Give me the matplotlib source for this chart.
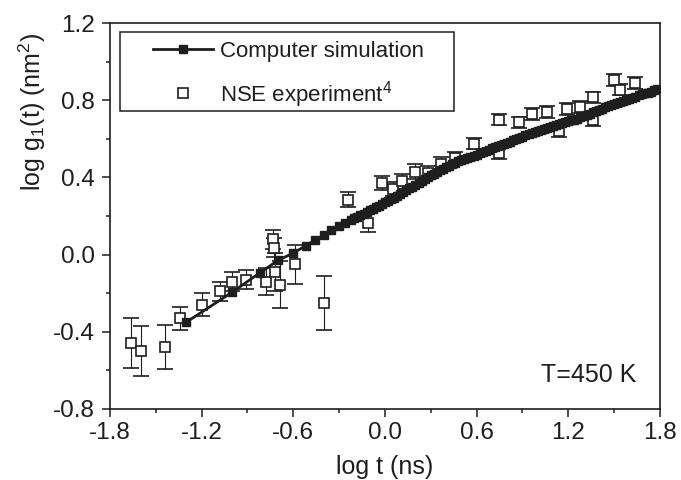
import numpy as np
import matplotlib
matplotlib.use("Agg")
import matplotlib.pyplot as plt
from matplotlib.lines import Line2D
from matplotlib.patches import Rectangle

plt.rcParams['font.family'] = ['Liberation Sans', 'DejaVu Sans']
plt.rcParams['mathtext.fontset'] = 'custom'
plt.rcParams['mathtext.rm'] = 'Liberation Sans'
plt.rcParams['mathtext.it'] = 'Liberation Sans:italic'

# computer simulation (log t, log g1)
sim_x = [-1.30, -1.00, -0.82, -0.70, -0.60, -0.52, -0.46, -0.40, -0.35, -0.30,
         -0.26, -0.22, -0.20, -0.18, -0.16, -0.14, -0.12, -0.10, -0.08, -0.06,
         -0.04, -0.02, 0.00, 0.02, 0.04, 0.06, 0.08, 0.10, 0.12, 0.14,
         0.16, 0.18, 0.20, 0.22, 0.24, 0.26, 0.28, 0.30, 0.32, 0.34,
         0.36, 0.38, 0.40, 0.42, 0.44, 0.46, 0.48, 0.50, 0.52, 0.54,
         0.56, 0.58, 0.60, 0.62, 0.64, 0.66, 0.68, 0.70, 0.72, 0.74,
         0.76, 0.78, 0.80, 0.82, 0.84, 0.86, 0.88, 0.90, 0.92, 0.94,
         0.96, 0.98, 1.00, 1.02, 1.04, 1.06, 1.08, 1.10, 1.12, 1.14,
         1.16, 1.18, 1.20, 1.22, 1.24, 1.26, 1.28, 1.30, 1.32, 1.34,
         1.36, 1.38, 1.40, 1.42, 1.44, 1.46, 1.48, 1.50, 1.52, 1.54,
         1.56, 1.58, 1.60, 1.62, 1.64, 1.66, 1.68, 1.70, 1.72, 1.74,
         1.76, 1.78]
sim_y = [-0.35, -0.195, -0.095, -0.03, 0.008, 0.045, 0.075, 0.10, 0.125, 0.15,
         0.165, 0.18, 0.188, 0.195, 0.203, 0.21, 0.22, 0.23, 0.238, 0.245,
         0.253, 0.26, 0.27, 0.28, 0.288, 0.295, 0.305, 0.315, 0.325, 0.335,
         0.343, 0.35, 0.36, 0.37, 0.38, 0.39, 0.40, 0.41, 0.42, 0.43,
         0.438, 0.445, 0.453, 0.46, 0.468, 0.475, 0.483, 0.49, 0.495, 0.50,
         0.505, 0.51, 0.518, 0.525, 0.53, 0.535, 0.543, 0.55, 0.558, 0.565,
         0.57, 0.575, 0.58, 0.585, 0.593, 0.60, 0.605, 0.61, 0.618, 0.625,
         0.63, 0.635, 0.64, 0.645, 0.65, 0.655, 0.66, 0.665, 0.67, 0.675,
         0.68, 0.685, 0.69, 0.695, 0.70, 0.705, 0.713, 0.72, 0.725, 0.73,
         0.738, 0.745, 0.75, 0.755, 0.763, 0.77, 0.775, 0.78, 0.785, 0.79,
         0.795, 0.80, 0.805, 0.81, 0.818, 0.825, 0.83, 0.835, 0.84, 0.845,
         0.852, 0.86]

# NSE experiment
nse_x = [-1.66, -1.60, -1.44, -1.34, -1.20, -1.08, -1.00, -0.91, -0.78, -0.735,
         -0.725, -0.72, -0.69, -0.59, -0.40, -0.24, -0.11, -0.02, 0.05, 0.11,
         0.20, 0.28, 0.37, 0.46, 0.58, 0.75, 0.75, 0.88, 0.96, 1.06,
         1.14, 1.19, 1.28, 1.36, 1.36, 1.50, 1.54, 1.64]
nse_y = [-0.46, -0.50, -0.48, -0.33, -0.26, -0.19, -0.14, -0.13, -0.14, 0.08,
         0.035, -0.09, -0.155, -0.05, -0.25, 0.285, 0.165, 0.37, 0.34, 0.38,
         0.43, 0.425, 0.47, 0.50, 0.575, 0.70, 0.525, 0.685, 0.73, 0.74,
         0.64, 0.755, 0.765, 0.815, 0.695, 0.905, 0.855, 0.89]
nse_err = [0.13, 0.13, 0.115, 0.06, 0.06, 0.05, 0.05, 0.05, 0.07, 0.05,
           0.05, 0.10, 0.12, 0.10, 0.14, 0.04, 0.05, 0.035, 0.035, 0.04,
           0.04, 0.035, 0.035, 0.03, 0.03, 0.03, 0.03, 0.03, 0.03, 0.03,
           0.03, 0.03, 0.03, 0.03, 0.03, 0.03, 0.03, 0.03]

ink = '#1e1e1e'

fig = plt.figure(figsize=(6.81, 4.8), dpi=100)
ax = fig.add_axes([0.1615, 0.148, 0.8075, 0.804])

ax.errorbar(nse_x, nse_y, yerr=nse_err, fmt='s', mfc='white', mec=ink,
            mew=1.2, ms=7.5, ecolor=ink, elinewidth=0.8, capsize=6,
            capthick=0.8, zorder=2)
ax.plot(sim_x, sim_y, '-s', color=ink, lw=2.0, ms=6.3, zorder=3)

ax.set_xlim(-1.8, 1.8)
ax.set_ylim(-0.8, 1.2)
ax.set_xticks([-1.8, -1.2, -0.6, 0.0, 0.6, 1.2, 1.8])
ax.set_xticks(np.arange(-1.5, 1.8, 0.6), minor=True)
ax.set_yticks([-0.8, -0.4, 0.0, 0.4, 0.8, 1.2])
ax.set_yticks([-0.6, -0.2, 0.2, 0.6, 1.0], minor=True)
ax.set_xticklabels(['-1.8', '-1.2', '-0.6', '0.0', '0.6', '1.2', '1.8'])
ax.set_yticklabels(['-0.8', '-0.4', '0.0', '0.4', '0.8', '1.2'])
ax.tick_params(which='major', direction='out', length=6, width=1.1,
               labelsize=17.5, color=ink, labelcolor=ink)
ax.tick_params(axis='x', which='major', pad=3.5)
ax.tick_params(axis='y', which='major', pad=5)
ax.tick_params(which='minor', direction='out', length=3, width=1.1, color=ink)
for s in ax.spines.values():
    s.set_linewidth(1.2)
    s.set_color(ink)

ax.set_xlabel('log t (ns)', fontsize=18, color=ink, labelpad=8)
ax.set_ylabel('log g$_1$(t) (nm$^2$)', fontsize=18, color=ink)
ax.yaxis.set_label_coords(-0.113, 0.77)

ax.text(0.958, 0.088, 'T=450 K', transform=ax.transAxes, ha='right',
        va='center', fontsize=18, color=ink)

# legend box drawn by hand, entries placed inside it
ax.add_patch(Rectangle((0.018, 0.772), 0.607, 0.205, transform=ax.transAxes,
                       fill=False, edgecolor=ink, lw=1.1, zorder=5))
handles = [Line2D([], [], color=ink, lw=2.0, marker='s', ms=5.5),
           Line2D([], [], ls='none', marker='s', mfc='white', mec=ink,
                  mew=1.2, ms=7.5)]
labels = ['Computer simulation', 'NSE experiment$^4$']
leg = ax.legend(handles, labels, loc='upper left',
                bbox_to_anchor=(0.078, 0.953), borderaxespad=0, borderpad=0,
                fontsize=16, frameon=False, numpoints=1,
                handlelength=2.7, handletextpad=0.3, labelspacing=0.75)
for t in leg.get_texts():
    t.set_color(ink)

fig.savefig('out.png', dpi=100)
